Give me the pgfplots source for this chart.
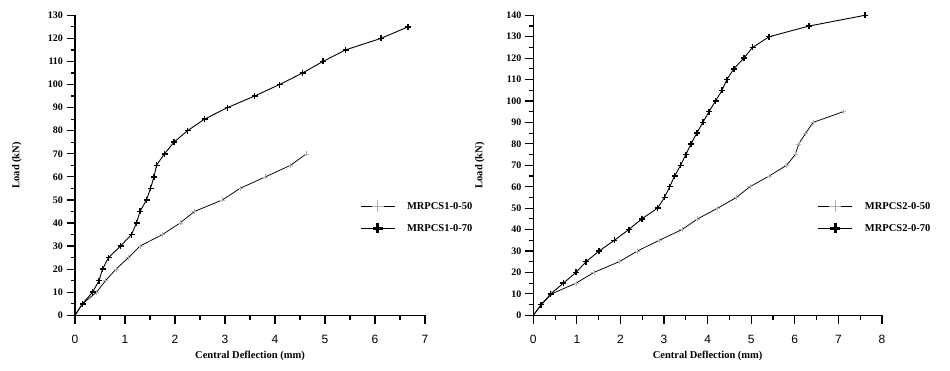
\documentclass[border=0pt]{standalone}
\usepackage{fontspec}
\setmainfont{Liberation Serif}
\setsansfont{Liberation Sans}
\usepackage{pgfplots}
\pgfplotsset{compat=1.18}
\begin{document}
\begin{tikzpicture}[x=1pt,y=1pt]
\path[use as bounding box] (0,0) rectangle (950,371);
\pgfplotsset{
  myax/.style={
    scale only axis, height=300pt,
    axis lines=left, axis line style={-, line width=1.5pt},
    tick align=outside, major tick length=8.5pt, minor tick length=4.5pt,
    tick style={black, line width=1.2pt},
    minor x tick num=1, minor y tick num=1,
    ymin=0, xmin=0,
    /pgf/number format/assume math mode=true,
    yticklabel style={font=\fontsize{10}{11}\selectfont\bfseries},
    xticklabel style={font=\fontsize{12}{13}\selectfont\sffamily, yshift=-8pt},
    xlabel={Central Deflection (mm)}, ylabel={Load (kN)},
    label style={font=\fontsize{10.5}{12}\selectfont\bfseries},
    xlabel style={at={(axis description cs:0.5,-0.136)}, anchor=center},
    legend style={draw=none, fill=none, inner sep=0pt, row sep=11pt,
      font=\fontsize{10.5}{12}\selectfont\bfseries,
      nodes={inner sep=0pt}, column sep=12pt},
    legend cell align=left,
    clip=false,
  },
  s50/.style={black, line width=0.75pt, mark=+, mark size=2.5pt,
    mark options={draw=black!30, line width=0.5pt},
    legend image code/.code={
      \draw[black, line width=0.75pt] (0pt,0pt) -- (34pt,0pt);
      \draw[only marks, mark=+, mark size=6pt, mark options={draw=black!30, line width=0.6pt}] plot coordinates {(17pt,0pt)};}},
  s70/.style={black, line width=0.9pt, mark=+, mark size=3pt,
    mark options={black, line width=1.5pt},
    legend image code/.code={
      \draw[black, line width=0.9pt] (0pt,0pt) -- (34pt,0pt);
      \draw[only marks, mark=+, mark size=5pt, mark options={black, line width=3pt}] plot coordinates {(17pt,0pt)};}},
}
\begin{axis}[myax, at={(75pt,55.7pt)}, anchor=south west, width=350pt,
  xmax=7, ymax=130, xtick={0,...,7}, ytick={0,10,...,130},
  ylabel style={at={(axis description cs:-0.166,0.5)}, anchor=center},
  legend style={at={(axis description cs:0.814,0.328)}, anchor=west}]
\addplot[s50] coordinates {(0,0)(0.15,5)(0.43,10)(0.61,15)(0.82,20)(1.07,25)(1.30,30)(1.75,35)(2.10,40)(2.39,45)(2.95,50)(3.30,55)(3.81,60)(4.31,65)(4.63,70)};
\addlegendentry{MRPCS1-0-50}
\addplot[s70] coordinates {(0,0)(0.15,5)(0.35,10)(0.48,15)(0.55,20)(0.67,25)(0.91,30)(1.13,35)(1.23,40)(1.30,45)(1.43,50)(1.51,55)(1.58,60)(1.63,65)(1.79,70)(1.98,75)(2.25,80)(2.59,85)(3.05,90)(3.59,95)(4.09,100)(4.55,105)(4.96,110)(5.41,115)(6.12,120)(6.66,125)};
\addlegendentry{MRPCS1-0-70}
\end{axis}
\begin{axis}[myax, at={(533.3pt,55.7pt)}, anchor=south west, width=348.7pt,
  xmax=8, ymax=140, xtick={0,...,8}, ytick={0,10,...,140},
  ylabel style={at={(axis description cs:-0.153,0.5)}, anchor=center},
  legend style={at={(axis description cs:0.816,0.328)}, anchor=west}]
\addplot[s50] coordinates {(0,0)(0.19,5)(0.42,10)(0.98,15)(1.39,20)(1.97,25)(2.39,30)(2.89,35)(3.41,40)(3.77,45)(4.23,50)(4.66,55)(4.97,60)(5.41,65)(5.81,70)(6.01,75)(6.09,80)(6.25,85)(6.42,90)(7.11,95)};
\addlegendentry{MRPCS2-0-50}
\addplot[s70] coordinates {(0,0)(0.18,5)(0.40,10)(0.69,15)(0.98,20)(1.21,25)(1.51,30)(1.86,35)(2.19,40)(2.49,45)(2.85,50)(3.01,55)(3.13,60)(3.24,65)(3.38,70)(3.50,75)(3.62,80)(3.75,85)(3.89,90)(4.03,95)(4.18,100)(4.33,105)(4.44,110)(4.60,115)(4.83,120)(5.03,125)(5.41,130)(6.33,135)(7.61,140)};
\addlegendentry{MRPCS2-0-70}
\end{axis}
\end{tikzpicture}
\end{document}
